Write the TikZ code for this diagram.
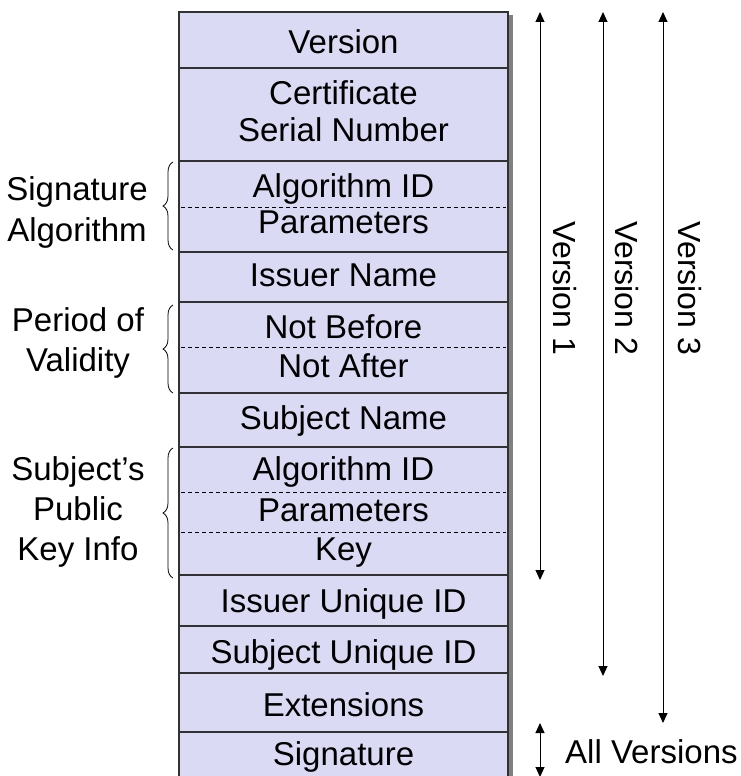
\documentclass[tikz,border=0pt]{standalone}
\usepackage{fontspec}
\setmainfont{Liberation Sans}
\usetikzlibrary{arrows.meta,decorations.pathreplacing}
\definecolor{cellfill}{RGB}{218,218,244}
\definecolor{edgegray}{RGB}{50,50,50}
\definecolor{shadowgray}{RGB}{128,128,128}
\begin{document}
\begin{tikzpicture}[x=1pt,y=-1pt,
  field/.style={anchor=base, font=\fontsize{33}{37}\selectfont, inner sep=0pt},
  side/.style={anchor=base, font=\fontsize{33}{41}\selectfont, inner sep=0pt},
  rowline/.style={draw=edgegray, line width=1.3pt},
  dashline/.style={draw=black, line width=0.8pt, dash pattern=on 4pt off 3pt},
  vbrace/.style={draw=black, decorate, decoration={brace, amplitude=10pt}, line width=0.8pt},
  tipshape/.tip={Triangle[width=9pt,length=10pt]},
  verarrow/.style={draw=black, line width=1pt, tipshape-tipshape},
  verlabel/.style={anchor=base, rotate=-90, font=\fontsize{32}{37}\selectfont, inner sep=0pt}]
\useasboundingbox (0,0) rectangle (740,776);
% box with shadow
\fill[shadowgray] (508,15) rectangle (513,790);
\filldraw[fill=cellfill, draw=edgegray, line width=1.3pt] (179,12) rectangle (508,790);
% row separators
\foreach \yy in {68,161,252,302,393,447,575,626,673,732}
  \draw[rowline] (179,\yy) -- (508,\yy);
% dashed separators
\foreach \yy in {207,347,492,532}
  \draw[dashline] (181,\yy) -- (506,\yy);
% field texts
\node[field] (fver)  at (343.5,53)  {Version};
\node[field] (fcert) at (343.5,104) {Certificate};
\node[field] (fser)  at (343.5,141.5) {Serial Number};
\node[field] (falg1) at (343.5,197) {Algorithm ID};
\node[field] (fpar1) at (343.5,233) {Parameters};
\node[field] (fiss)  at (343.5,286.5) {Issuer Name};
\node[field] (fnb)   at (343.5,338) {Not Before};
\node[field] (fna)   at (343.5,377.5) {Not After};
\node[field] (fsub)  at (343.5,429) {Subject Name};
\node[field] (falg2) at (343.5,480.5) {Algorithm ID};
\node[field] (fpar2) at (343.5,521) {Parameters};
\node[field] (fkey)  at (343.5,560) {Key};
\node[field] (fiuid) at (343.5,612.5) {Issuer Unique ID};
\node[field] (fsuid) at (343.5,663) {Subject Unique ID};
\node[field] (fext)  at (343.5,716.5) {Extensions};
\node[field] (fsig)  at (343.5,765) {Signature};
% side labels
\node[side] (lsig1) at (77,200) {Signature};
\node[side] (lsig2) at (77,241.5) {Algorithm};
\node[side] (lper1) at (78,331.5) {Period of};
\node[side] (lper2) at (78,371.5) {Validity};
\node[side] (lpk1)  at (78,480) {Subject’s};
\node[side] (lpk2)  at (78,520) {Public};
\node[side] (lpk3)  at (78,560) {Key Info};
% braces
\coordinate (b1a) at (173,250); \coordinate (b1b) at (173,162);
\coordinate (b2a) at (173,393); \coordinate (b2b) at (173,305);
\coordinate (b3a) at (173,578); \coordinate (b3b) at (173,448);
\draw[vbrace] (b1a) -- (b1b);
\draw[vbrace] (b2a) -- (b2b);
\draw[vbrace] (b3a) -- (b3b);
% version arrows
\coordinate (v1t) at (540,12);  \coordinate (v1b) at (540,580);
\coordinate (v2t) at (603,12);  \coordinate (v2b) at (603,676);
\coordinate (v3t) at (663,12);  \coordinate (v3b) at (663,723);
\coordinate (avt) at (540,723); \coordinate (avb) at (540,777);
\draw[verarrow] (v1t) -- (v1b);
\draw[verarrow] (v2t) -- (v2b);
\draw[verarrow] (v3t) -- (v3b);
\draw[verarrow] (avt) -- (avb);
\node[verlabel] (lv1) at (553,288.5) {Version 1};
\node[verlabel] (lv2) at (615,288.5) {Version 2};
\node[verlabel] (lv3) at (678,288.5) {Version 3};
\node[field, anchor=base west] (lall) at (565,763) {All Versions};
\end{tikzpicture}
\end{document}
